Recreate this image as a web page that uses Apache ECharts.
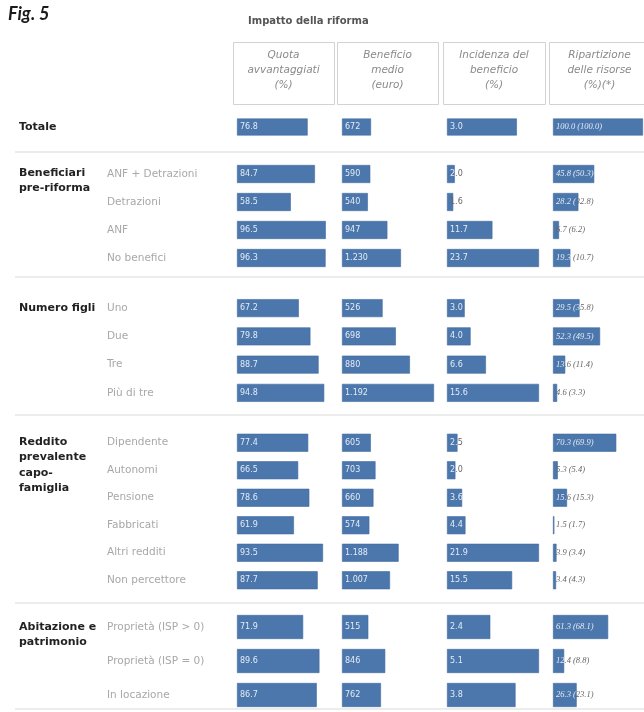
<!DOCTYPE html>
<html>
<head>
<meta charset="utf-8">
<script src="https://cdn.jsdelivr.net/npm/echarts@6/dist/echarts.min.js"></script>
<style>
  html, body { margin: 0; padding: 0; background: #ffffff; }
  #chart { width: 644px; height: 712px; }
</style>
</head>
<body>
<div id="chart"></div>
<script>
// ---- Data -------------------------------------------------------------
const sectionTitles = [
  ['Totale'],
  ['Beneficiari', 'pre-riforma'],
  ['Numero figli'],
  ['Reddito', 'prevalente', 'capo-', 'famiglia'],
  ['Abitazione e', 'patrimonio']
];
const categories = [
  [''],
  ['ANF + Detrazioni', 'Detrazioni', 'ANF', 'No benefici'],
  ['Uno', 'Due', 'Tre', 'Più di tre'],
  ['Dipendente', 'Autonomi', 'Pensione', 'Fabbricati', 'Altri redditi', 'Non percettore'],
  ['Proprietà (ISP > 0)', 'Proprietà (ISP = 0)', 'In locazione']
];
// Quota avvantaggiati (%)
const quotaAvvantaggiati = [
  [76.8],
  [84.7, 58.5, 96.5, 96.3],
  [67.2, 79.8, 88.7, 94.8],
  [77.4, 66.5, 78.6, 61.9, 93.5, 87.7],
  [71.9, 89.6, 86.7]
];
// Beneficio medio (euro)
const beneficioMedio = [
  [672],
  [590, 540, 947, 1230],
  [526, 698, 880, 1192],
  [605, 703, 660, 574, 1188, 1007],
  [515, 846, 762]
];
// Incidenza del beneficio (%)
const incidenzaBeneficio = [
  [3.0],
  [2.0, 1.6, 11.7, 23.7],
  [3.0, 4.0, 6.6, 15.6],
  [2.5, 2.0, 3.6, 4.4, 21.9, 15.5],
  [2.4, 5.1, 3.8]
];
// Ripartizione delle risorse (%) and reference share in brackets
const ripartizioneRisorse = [
  [100.0],
  [45.8, 28.2, 6.7, 19.3],
  [29.5, 52.3, 13.6, 4.6],
  [70.3, 5.3, 15.6, 1.5, 3.9, 3.4],
  [61.3, 12.4, 26.3]
];
const ripartizioneRif = [
  [100.0],
  [50.3, 32.8, 6.2, 10.7],
  [35.8, 49.5, 11.4, 3.3],
  [69.9, 5.4, 15.3, 1.7, 3.4, 4.3],
  [68.1, 8.8, 23.1]
];
const columnHeaders = [
  ['Quota', 'avvantaggiati', '(%)'],
  ['Beneficio', 'medio', '(euro)'],
  ['Incidenza del', 'beneficio', '(%)'],
  ['Ripartizione', 'delle risorse', '(%)(*)']
];

// ---- Layout & scales ----------------------------------------------------
const colLeft = [237, 342, 447, 553];
const colWidth = [92, 92, 92, 90];
// each section block has its own scale per column
const axisMax = [
  [100, 2130, 3.95, 100],
  [100, 1920, 23.7, 100],
  [100, 1192, 15.6, 100],
  [100, 1930, 21.9, 100],
  [100, 1800, 5.1, 100]
];
const sectionBox = [
  { top: 118, height: 18, bar: 17 },
  { top: 160, height: 112, bar: 18 },
  { top: 294, height: 113, bar: 18 },
  { top: 429, height: 165, bar: 18 },
  { top: 610, height: 102, bar: 24 }
];
const separatorsY = [152, 277, 415, 603, 709];

const BAR = '#4b77ad';
const INSIDE = '#e4ebf4';
const OUTSIDE = '#666666';
const SANS = '"DejaVu Sans", sans-serif';
const SERIF = '"Liberation Serif", serif';
const LABEL_PAD = 3;

const measureCtx = document.createElement('canvas').getContext('2d');
function textW(str, font) { measureCtx.font = font; return measureCtx.measureText(str).width; }

function fmtThousands(v) {
  return String(Math.round(v)).replace(/\B(?=(\d{3})+(?!\d))/g, '.');
}
const columns = [
  { data: quotaAvvantaggiati, fmt: v => v.toFixed(1) },
  { data: beneficioMedio, fmt: fmtThousands },
  { data: incidenzaBeneficio, fmt: v => v.toFixed(1) },
  { data: ripartizioneRisorse, fmt: v => v.toFixed(1) }
];

const LABEL_FONT = '8px ' + SANS;
const LABEL_FONT4 = 'italic 8.5px ' + SERIF;

// Characters that sit on the bar are light, the rest of the label is grey
function splitLabel(str, font, barPx, onStyle, offStyle) {
  let x = LABEL_PAD, out = '', cur = null, buf = '';
  for (const ch of str) {
    const w = textW(ch, font);
    const st = (x + w * 0.5 < barPx - 1) ? onStyle : offStyle;
    if (st !== cur && buf) { out += '{' + cur + '|' + buf + '}'; buf = ''; }
    cur = st; buf += ch; x += w;
  }
  if (buf) out += '{' + cur + '|' + buf + '}';
  return out;
}

const grids = [], xAxes = [], yAxes = [], series = [];
sectionBox.forEach((sec, s) => {
  columns.forEach((col, c) => {
    const idx = grids.length;
    grids.push({ left: colLeft[c], width: colWidth[c], top: sec.top, height: sec.height, containLabel: false });
    xAxes.push({ type: 'value', gridIndex: idx, min: 0, max: axisMax[s][c], show: false });
    yAxes.push({
      type: 'category', gridIndex: idx, inverse: true, data: categories[s],
      axisLine: { show: false }, axisTick: { show: false }, splitLine: { show: false },
      axisLabel: c === 0 ? {
        show: true, align: 'left', margin: colLeft[0] - 107,
        color: '#a8a8a8', fontFamily: SANS, fontSize: 10.5
      } : { show: false }
    });
    const maxV = axisMax[s][c];
    series.push({
      type: 'bar', xAxisIndex: idx, yAxisIndex: idx,
      data: col.data[s], barWidth: sec.bar, silent: true,
      itemStyle: { color: BAR, borderColor: '#41699c', borderWidth: 0.6 },
      label: {
        show: true, position: 'insideLeft', distance: LABEL_PAD,
        formatter: (p) => {
          const v = p.value;
          const barPx = v / maxV * colWidth[c];
          if (c < 3) return splitLabel(col.fmt(v), LABEL_FONT, barPx, 'w', 'g');
          const txt = col.fmt(v) + ' (' + ripartizioneRif[s][p.dataIndex].toFixed(1) + ')';
          return splitLabel(txt, LABEL_FONT4, barPx, 'w4', 'g4');
        },
        rich: {
          w: { color: INSIDE, fontFamily: SANS, fontSize: 8 },
          g: { color: OUTSIDE, fontFamily: SANS, fontSize: 8 },
          w4: { color: INSIDE, fontFamily: SERIF, fontStyle: 'italic', fontSize: 8.5 },
          g4: { color: OUTSIDE, fontFamily: SERIF, fontStyle: 'italic', fontSize: 8.5 }
        }
      }
    });
  });
});

// ---- Decorations: titles, header boxes, separators ---------------------
const graphics = [];
graphics.push({ type: 'text', x: 8, y: 5, style: { text: 'Fig. 5', font: 'italic bold 18px Lato, sans-serif', fill: '#1a1a1a' } });
graphics.push({ type: 'text', x: 248, y: 16, style: { text: 'Impatto della riforma', font: 'bold 10px ' + SANS, fill: '#555555' } });

const boxLeft = [233, 337, 443, 549];
const boxWidth = [101, 101, 102, 101];
columnHeaders.forEach((lines, i) => {
  graphics.push({ type: 'rect', shape: { x: boxLeft[i] + 0.5, y: 42.5, width: boxWidth[i], height: 62 },
    style: { fill: 'none', stroke: '#d2d2d2', lineWidth: 1 } });
  lines.forEach((t, k) => {
    graphics.push({ type: 'text', x: boxLeft[i] + boxWidth[i] / 2, y: 55 + k * 15,
      style: { text: t, font: 'italic 10.5px ' + SANS, fill: '#8a8a8a', align: 'center', verticalAlign: 'middle' } });
  });
});

const titleFirstY = [127, 173, 308, 442, 627];
sectionTitles.forEach((lines, s) => {
  lines.forEach((t, k) => {
    graphics.push({ type: 'text', x: 19, y: titleFirstY[s] + k * 15.5,
      style: { text: t, font: 'bold 11px ' + SANS, fill: '#222222', verticalAlign: 'middle' } });
  });
});

separatorsY.forEach(y => {
  graphics.push({ type: 'line', shape: { x1: 15, y1: y, x2: 644, y2: y },
    style: { stroke: '#e6e6e6', lineWidth: 1.5 } });
});

const chart = echarts.init(document.getElementById('chart'), null, { renderer: 'canvas' });
chart.setOption({
  backgroundColor: '#ffffff',
  animation: false,
  grid: grids,
  xAxis: xAxes,
  yAxis: yAxes,
  series: series,
  graphic: graphics
});
</script>
</body>
</html>
